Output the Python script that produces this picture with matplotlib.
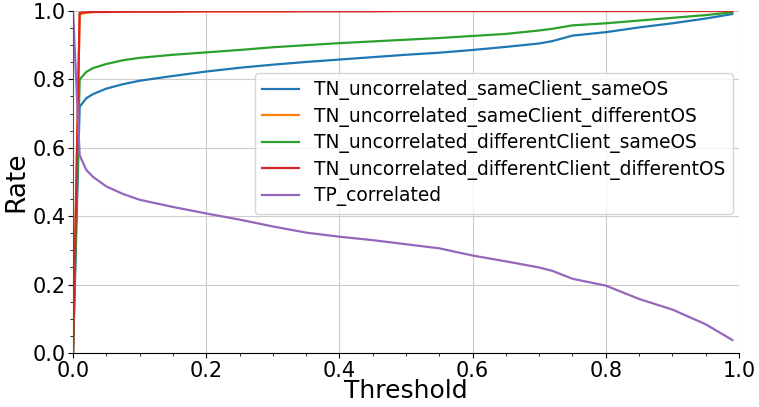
import matplotlib
matplotlib.use("Agg")
import matplotlib.pyplot as plt
from matplotlib.ticker import MultipleLocator, AutoMinorLocator

# thresholds (non-uniform, dense near zero where the curves bend)
thresholds = [0.0, 0.01, 0.02, 0.03, 0.05, 0.075, 0.1, 0.15, 0.2, 0.25, 0.3,
              0.35, 0.4, 0.45, 0.5, 0.55, 0.6, 0.65, 0.7, 0.72, 0.75, 0.8,
              0.85, 0.9, 0.95, 0.99]

tn_same_client_same_os = [0.0, 0.72, 0.745, 0.757, 0.773, 0.786, 0.796, 0.810,
                          0.823, 0.834, 0.843, 0.851, 0.858, 0.865, 0.872,
                          0.878, 0.886, 0.895, 0.905, 0.912, 0.928, 0.938,
                          0.952, 0.964, 0.978, 0.991]
tn_same_client_diff_os = [0.0, 0.99, 0.995, 0.997, 0.998, 0.998, 0.999, 0.999,
                          0.999, 0.999, 0.999, 1.0, 1.0, 1.0, 1.0, 1.0, 1.0,
                          1.0, 1.0, 1.0, 1.0, 1.0, 1.0, 1.0, 1.0, 1.0]
tn_diff_client_same_os = [0.0, 0.80, 0.822, 0.833, 0.845, 0.856, 0.863, 0.872,
                          0.879, 0.886, 0.894, 0.900, 0.906, 0.911, 0.916,
                          0.921, 0.927, 0.933, 0.943, 0.948, 0.958, 0.964,
                          0.972, 0.980, 0.988, 0.996]
tn_diff_client_diff_os = [0.0, 0.995, 0.996, 0.997, 0.997, 0.998, 0.998, 0.998,
                          0.999, 0.999, 0.999, 0.999, 0.999, 0.999, 1.0, 1.0,
                          1.0, 1.0, 1.0, 1.0, 1.0, 1.0, 1.0, 1.0, 1.0, 1.0]
tp_correlated = [1.0, 0.578, 0.535, 0.515, 0.487, 0.465, 0.448, 0.427, 0.408,
                 0.390, 0.370, 0.352, 0.340, 0.330, 0.318, 0.306, 0.285, 0.268,
                 0.250, 0.240, 0.217, 0.197, 0.158, 0.127, 0.084, 0.038]

series = [
    ("TN_uncorrelated_sameClient_sameOS", tn_same_client_same_os),
    ("TN_uncorrelated_sameClient_differentOS", tn_same_client_diff_os),
    ("TN_uncorrelated_differentClient_sameOS", tn_diff_client_same_os),
    ("TN_uncorrelated_differentClient_differentOS", tn_diff_client_diff_os),
    ("TP_correlated", tp_correlated),
]

fig = plt.figure(figsize=(7.59, 4.07), dpi=100)
ax = fig.add_axes([0.0962, 0.1327, 0.8774, 0.8403])

for name, vals in series:
    ax.plot(thresholds, vals, label=name, linewidth=1.6)

ax.set_xlim(0, 1)
ax.set_ylim(0, 1)
ax.xaxis.set_major_locator(MultipleLocator(0.2))
ax.yaxis.set_major_locator(MultipleLocator(0.2))
ax.xaxis.set_minor_locator(AutoMinorLocator(4))
ax.yaxis.set_minor_locator(AutoMinorLocator(4))
ax.tick_params(axis="both", which="major", labelsize=15, pad=2)
ax.grid(True, which="major", color="#cccccc", linewidth=0.8)
ax.set_axisbelow(True)

# only left and bottom spines
ax.spines["top"].set_visible(False)
ax.spines["right"].set_visible(False)
ax.spines["left"].set_color("#555555")

ax.set_xlabel("Threshold", fontsize=18, labelpad=-1)
ax.set_ylabel("Rate", fontsize=19, labelpad=2)

ax.legend(loc="upper right", bbox_to_anchor=(0.991, 0.819), borderaxespad=0,
          fontsize=13.4, labelspacing=0.35)

fig.savefig("out.png", dpi=100)
